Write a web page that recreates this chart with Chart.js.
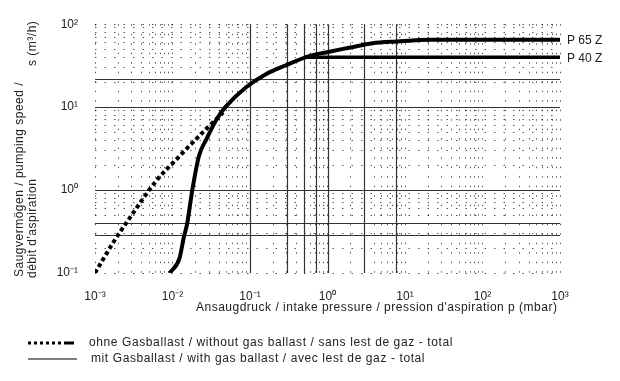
<!DOCTYPE html>
<html>
<head>
<meta charset="utf-8">
<script src="https://cdn.jsdelivr.net/npm/chart.js@4.4.1/dist/chart.umd.min.js"></script>
<style>
  html, body { margin: 0; padding: 0; background: #fff; }
  #wrap { width: 620px; height: 381px; position: relative; }
</style>
</head>
<body>
<div id="wrap"><canvas id="chart"></canvas></div>
<script>
// ohne Gasballast (dotted curve), pressure in mbar / speed in m3/h
const pressureDry = [0.001, 0.0018, 0.0028, 0.0062, 0.011, 0.028, 0.045]
const speedDry = [0.1, 0.25, 0.46, 1.3, 2.3, 5.6, 8.6]

// mit Gasballast, P 65 Z
const pressureP65 = [0.0092, 0.0123, 0.014, 0.0155, 0.018, 0.022, 0.027, 0.038, 0.049, 0.089, 0.16, 0.29, 0.59, 0.98, 1.9, 3.8, 7.8, 21, 100, 1000]
const speedP65 = [0.1, 0.15, 0.27, 0.4, 1.0, 2.6, 4.0, 7.4, 10.2, 17.4, 25, 32, 41.5, 46, 52, 59, 62, 65, 65, 65]

// mit Gasballast, P 40 Z (branches off the P 65 Z curve)
const pressureP40 = [0.5, 1, 10, 100, 1000]
const speedP40 = [40, 40, 40, 40, 40]

const seriesNames = ["P 65 Z", "P 40 Z"]

// axis ranges (decades)
const xRange = [0.001, 1000]
const yRange = [0.1, 100]

// the solid lines printed in the original grid
const solidLinesX = [0.1, 0.3, 0.5, 0.72, 1, 3, 7.6]
const solidLinesY = [22, 10, 1, 0.4, 0.29]

const yTitleLines = ["Saugvermögen / pumping speed /", "débit d'aspiration"]
const yUnit = "s (m³/h)"
const xTitle = "Ansaugdruck / intake pressure / pression d'aspiration p (mbar)"
const legendLabels = [
  "ohne Gasballast / without gas ballast / sans lest de gaz - total",
  "mit Gasballast / with gas ballast / avec lest de gaz - total"
]

const FONT = '"Liberation Sans", Arial, sans-serif'
const INK = "#222"

function toPoints(xs, ys) {
  return xs.map((x, i) => ({ x: x, y: ys[i] }))
}

// 1..9 x 10^n for every decade of the range
function logTicks(min, max) {
  const ticks = []
  const e0 = Math.round(Math.log10(min))
  const e1 = Math.round(Math.log10(max))
  for (let e = e0; e < e1; e++) {
    for (let m = 1; m < 10; m++) ticks.push({ value: m * Math.pow(10, e) })
  }
  ticks.push({ value: max })
  return ticks
}

const SUP = { "-": "⁻", "0": "⁰", "1": "¹", "2": "²", "3": "³", "4": "⁴", "5": "⁵", "6": "⁶", "7": "⁷", "8": "⁸", "9": "⁹" }
function powerLabel(value) {
  const e = Math.log10(value)
  if (Math.abs(e - Math.round(e)) > 1e-6) return ""
  return "10" + String(Math.round(e)).split("").map(c => SUP[c]).join("")
}

// extra solid grid lines from the scanned sheet
const solidGrid = {
  id: "solidGrid",
  beforeDatasetsDraw(chart) {
    const { ctx, chartArea, scales } = chart
    ctx.save()
    ctx.strokeStyle = "#333"
    ctx.lineWidth = 1.2
    ctx.beginPath()
    solidLinesX.forEach(v => {
      const px = Math.round(scales.x.getPixelForValue(v)) + 0.5
      ctx.moveTo(px, chartArea.top)
      ctx.lineTo(px, chartArea.bottom)
    })
    solidLinesY.forEach(v => {
      const py = Math.round(scales.y.getPixelForValue(v)) + 0.5
      ctx.moveTo(chartArea.left, py)
      ctx.lineTo(chartArea.right, py)
    })
    ctx.stroke()
    ctx.restore()
  }
}

// titles, curve names and the legend under the chart
const sheetText = {
  id: "sheetText",
  afterDraw(chart) {
    const { ctx, scales } = chart
    ctx.save()
    ctx.fillStyle = INK
    ctx.font = "12px " + FONT
    ctx.letterSpacing = "0.5px"
    ctx.textBaseline = "middle"
    ctx.textAlign = "left"

    // y title, rotated
    const yPos = [[20, 277], [33, 278]]
    yTitleLines.forEach((line, i) => {
      ctx.save()
      ctx.translate(yPos[i][0], yPos[i][1])
      ctx.rotate(-Math.PI / 2)
      ctx.fillText(line, 0, 0)
      ctx.restore()
    })
    ctx.save()
    ctx.translate(33, 66)
    ctx.rotate(-Math.PI / 2)
    ctx.fillText(yUnit, 0, 0)
    ctx.restore()

    // x title
    ctx.fillText(xTitle, 196, 308)

    // curve names at the right end
    ctx.letterSpacing = "0px"
    ctx.fillText(seriesNames[0], 567, scales.y.getPixelForValue(speedP65[speedP65.length - 1]) + 1)
    ctx.fillText(seriesNames[1], 567, scales.y.getPixelForValue(speedP40[speedP40.length - 1]) + 1)

    // legend
    ctx.letterSpacing = "0.6px"
    ctx.strokeStyle = "#000"
    ctx.lineWidth = 3
    ctx.setLineDash([3, 3])
    ctx.beginPath()
    ctx.moveTo(28, 343)
    ctx.lineTo(66, 343)
    ctx.stroke()
    ctx.setLineDash([])
    ctx.beginPath()
    ctx.moveTo(66, 343)
    ctx.lineTo(74, 343)
    ctx.stroke()
    ctx.lineWidth = 1.2
    ctx.beginPath()
    ctx.moveTo(28, 359)
    ctx.lineTo(77, 359)
    ctx.stroke()
    ctx.fillText(legendLabels[0], 89, 343)
    ctx.fillText(legendLabels[1], 91, 359)
    ctx.restore()
  }
}

const axisGrid = {
  color: "rgba(0,0,0,0.65)",
  lineWidth: 1,
  drawTicks: false
}

new Chart(document.getElementById("chart"), {
  type: "line",
  data: {
    datasets: [
      {
        label: legendLabels[0],
        data: toPoints(pressureDry, speedDry),
        borderColor: "#000",
        borderWidth: 4,
        borderDash: [4, 3],
        cubicInterpolationMode: "monotone",
        pointRadius: 0
      },
      {
        label: seriesNames[0],
        data: toPoints(pressureP65, speedP65),
        borderColor: "#000",
        borderWidth: 4,
        cubicInterpolationMode: "monotone",
        pointRadius: 0
      },
      {
        label: seriesNames[1],
        data: toPoints(pressureP40, speedP40),
        borderColor: "#000",
        borderWidth: 3.5,
        pointRadius: 0
      }
    ]
  },
  options: {
    responsive: true,
    maintainAspectRatio: false,
    animation: false,
    layout: { padding: { top: 22, right: 60, left: 0, bottom: 0 } },
    plugins: {
      legend: { display: false },
      tooltip: { enabled: false }
    },
    scales: {
      x: {
        type: "logarithmic",
        min: xRange[0],
        max: xRange[1],
        afterBuildTicks: scale => { scale.ticks = logTicks(xRange[0], xRange[1]) },
        afterFit: scale => { scale.height = 108 },
        grid: axisGrid,
        border: { display: false, dash: [1.5, 8] },
        ticks: {
          autoSkip: false,
          maxRotation: 0,
          padding: 16,
          color: INK,
          font: { family: FONT, size: 12 },
          callback: value => powerLabel(value)
        }
      },
      y: {
        type: "logarithmic",
        min: yRange[0],
        max: yRange[1],
        afterBuildTicks: scale => { scale.ticks = logTicks(yRange[0], yRange[1]) },
        afterFit: scale => { scale.width = 95 },
        grid: axisGrid,
        border: { display: false, dash: [1.5, 8] },
        ticks: {
          autoSkip: false,
          padding: 17,
          color: INK,
          font: { family: FONT, size: 12 },
          callback: value => powerLabel(value)
        }
      }
    }
  },
  plugins: [solidGrid, sheetText]
})
</script>
</body>
</html>
